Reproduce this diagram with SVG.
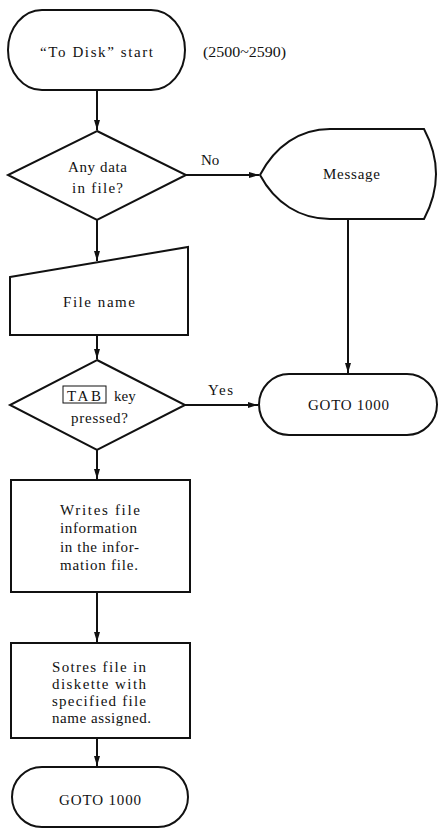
<svg xmlns="http://www.w3.org/2000/svg" width="438" height="829" viewBox="0 0 438 829">
  <style>
    .shape { fill: #fff; stroke: #111; stroke-width: 2; }
    .edge { fill: none; stroke: #111; stroke-width: 2; }
  </style>
  <defs>
    <marker id="arrow" viewBox="0 0 10 6" refX="10" refY="3" markerWidth="10" markerHeight="6" markerUnits="userSpaceOnUse" orient="auto">
      <path d="M0,0 L10,3 L0,6 Z" fill="#111"/>
    </marker>
  </defs>
  <rect width="438" height="829" fill="#fff"/>

  <g font-family="Liberation Serif, serif" font-size="15" fill="#111">
  <!-- connectors -->
  <g id="connectors">
    <line class="edge" x1="97" y1="90" x2="97" y2="130" marker-end="url(#arrow)"/>
    <line class="edge" x1="186" y1="175" x2="259" y2="175" marker-end="url(#arrow)"/>
    <line class="edge" x1="97" y1="220" x2="97" y2="261" marker-end="url(#arrow)"/>
    <line class="edge" x1="348" y1="219" x2="348" y2="373" marker-end="url(#arrow)"/>
    <line class="edge" x1="97" y1="335" x2="97" y2="359" marker-end="url(#arrow)"/>
    <line class="edge" x1="185" y1="405" x2="258" y2="405" marker-end="url(#arrow)"/>
    <line class="edge" x1="97" y1="450" x2="97" y2="479" marker-end="url(#arrow)"/>
    <line class="edge" x1="97" y1="592" x2="97" y2="642" marker-end="url(#arrow)"/>
    <line class="edge" x1="97" y1="738" x2="97" y2="766" marker-end="url(#arrow)"/>
    <text x="201" y="165">No</text>
    <text x="208" y="395" textLength="25" lengthAdjust="spacing">Yes</text>
  </g>

  <g id="start">
    <rect class="shape" x="8" y="10" width="177" height="80" rx="34" ry="40"/>
    <text x="40" y="57" textLength="113" lengthAdjust="spacing">“To Disk”  start</text>
  </g>
  <text x="203" y="57" textLength="83" lengthAdjust="spacingAndGlyphs">(2500~2590)</text>

  <g id="any-data">
    <polygon class="shape" points="97,131 186,175 97,220 8,175"/>
    <text x="68" y="172" textLength="59" lengthAdjust="spacing">Any data</text>
    <text x="72" y="193" textLength="51" lengthAdjust="spacing">in file?</text>
  </g>

  <g id="message">
    <path class="shape" d="M260,175 C275,146 300,129 330,129 L424,129 Q448,174 424,219 L330,219 C300,219 275,203 260,175 Z"/>
    <text x="323" y="179" textLength="57" lengthAdjust="spacing">Message</text>
  </g>

  <g id="file-name">
    <polygon class="shape" points="10,277 188,247 188,335 10,335"/>
    <text x="63" y="307" textLength="72" lengthAdjust="spacing">File name</text>
  </g>

  <g id="tab-key">
    <polygon class="shape" points="97,360 185,405 97,450 10,405"/>
    <rect x="63" y="386" width="43" height="17" fill="none" stroke="#111" stroke-width="1"/>
    <text x="67" y="401" textLength="34" lengthAdjust="spacing">TAB</text>
    <text x="114" y="401">key</text>
    <text x="71" y="423" textLength="57" lengthAdjust="spacing">pressed?</text>
  </g>

  <g id="goto-right">
    <rect class="shape" x="259" y="374" width="178" height="61" rx="30" ry="30.5"/>
    <text x="308" y="410" textLength="81" lengthAdjust="spacing">GOTO  1000</text>
  </g>

  <g id="write-info">
    <rect class="shape" x="11" y="480" width="179" height="112"/>
    <text x="60" y="515" textLength="80" lengthAdjust="spacing">Writes file</text>
    <text x="60" y="533" textLength="77" lengthAdjust="spacing">information</text>
    <text x="60" y="552" textLength="79" lengthAdjust="spacing">in the infor-</text>
    <text x="60" y="570" textLength="78" lengthAdjust="spacing">mation file.</text>
  </g>

  <g id="store-file">
    <rect class="shape" x="11" y="643" width="179" height="95"/>
    <text x="52" y="672" textLength="94" lengthAdjust="spacing">Sotres file in</text>
    <text x="52" y="689" textLength="94" lengthAdjust="spacing">diskette  with</text>
    <text x="52" y="706" textLength="94" lengthAdjust="spacing">specified file</text>
    <text x="52" y="723" textLength="99" lengthAdjust="spacing">name assigned.</text>
  </g>

  <g id="end">
    <rect class="shape" x="12" y="767" width="176" height="60" rx="30" ry="30"/>
    <text x="59" y="805" textLength="82" lengthAdjust="spacing">GOTO  1000</text>
  </g>
  </g>
</svg>
